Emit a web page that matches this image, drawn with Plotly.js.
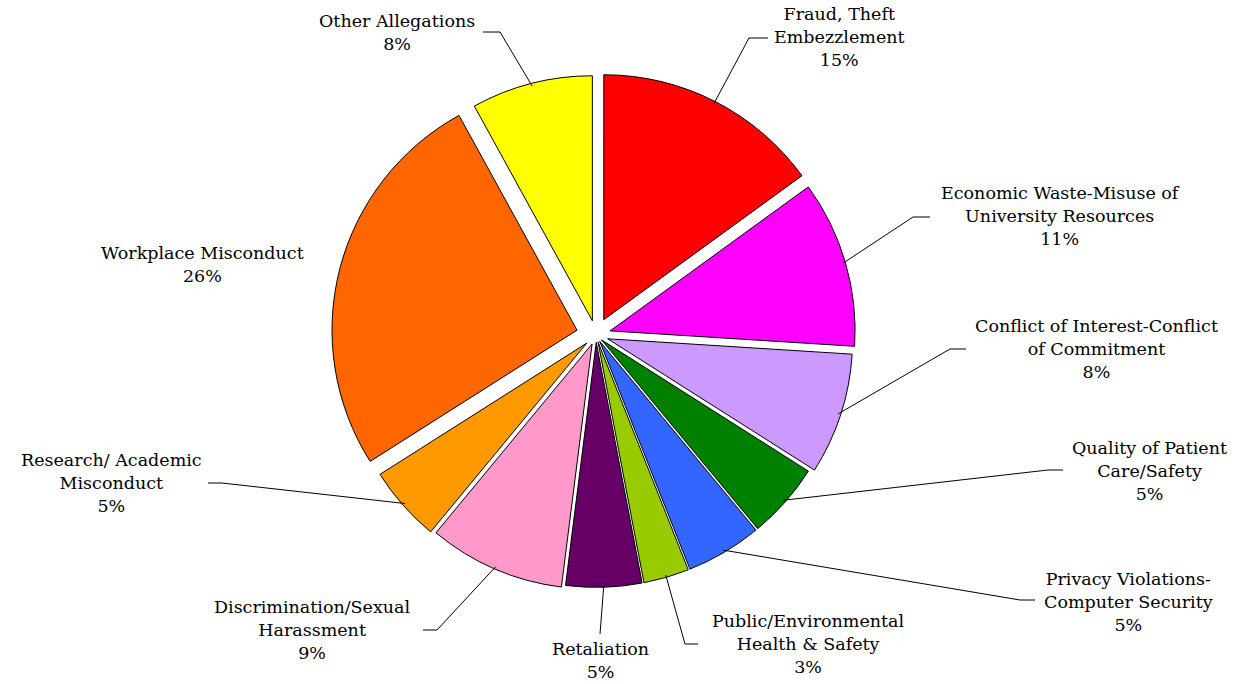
<!DOCTYPE html>
<html><head><meta charset="utf-8">
<script src="https://cdn.plot.ly/plotly-3.0.1.min.js"></script>
<style>html,body{margin:0;padding:0;background:#fff}#chart{width:1243px;height:684px}</style>
</head><body><div id="chart"></div>
<script>
// ---- data ----
const categories = [
  "Fraud, Theft Embezzlement",
  "Economic Waste-Misuse of University Resources",
  "Conflict of Interest-Conflict of Commitment",
  "Quality of Patient Care/Safety",
  "Privacy Violations-Computer Security",
  "Public/Environmental Health & Safety",
  "Retaliation",
  "Discrimination/Sexual Harassment",
  "Research/ Academic Misconduct",
  "Workplace Misconduct",
  "Other Allegations"
];
const labelLines = [
  ["Fraud, Theft", "Embezzlement"],
  ["Economic Waste-Misuse of", "University Resources"],
  ["Conflict of Interest-Conflict", "of Commitment"],
  ["Quality of Patient", "Care/Safety"],
  ["Privacy Violations-", "Computer Security"],
  ["Public/Environmental", "Health & Safety"],
  ["Retaliation"],
  ["Discrimination/Sexual", "Harassment"],
  ["Research/ Academic", "Misconduct"],
  ["Workplace Misconduct"],
  ["Other Allegations"]
];
const percents = [15, 11, 8, 5, 5, 3, 5, 9, 5, 26, 8];
const colors = ["#FF0000", "#FF00FF", "#CC99FF", "#008000", "#3366FF", "#99CC00",
                "#660066", "#FF99CC", "#FF9900", "#FF6600", "#FFFF00"];

// ---- layout (pixel positions of the label boxes and leader-line elbows) ----
const pulls = [0.07, 0.06, 0.05, 0.03, 0.03, 0.03, 0.03, 0.04, 0.05, 0.08, 0.06];
const labelPos = [[839, 37], [1060, 216], [1096, 349], [1149, 471], [1128, 602],
                  [808, 644], [600, 660], [312, 630], [111, 483], [202, 264], [397, 32]];
const lineStart = [[768, 38], [930, 217], [966, 349], [1063, 470], [1035, 600],
                   [698, 644], [600, 634], [423, 630], [208, 483], null, [483, 32]];
const lineElbow = [[749, 38], [913, 217], [950, 349], [1048, 470], [1020, 600],
                   [685, 644], [600, 634], [437, 630], [222, 483], null, [500, 32]];

const W = 1243, H = 684, cx = 596, cy = 335, r = 245;
const maxPull = Math.max.apply(null, pulls);
const box = 2 * r * (1 + maxPull);
const px = x => x / W, py = y => 1 - y / H;

const total = percents.reduce((a, b) => a + b, 0);
const shapes = [], annotations = [];
let cum = 0;
percents.forEach((v, i) => {
  const mid = (cum + v / 2) / total;
  cum += v;
  const th = 2 * Math.PI * mid;
  const rr = r * (0.99 + pulls[i]);
  const ex = cx + rr * Math.sin(th), ey = cy - rr * Math.cos(th);
  annotations.push({
    x: px(labelPos[i][0]), y: py(labelPos[i][1]), xref: 'paper', yref: 'paper',
    xanchor: 'center', yanchor: 'middle', align: 'center', showarrow: false,
    text: labelLines[i].join('<br>') + '<br>' + v + '%',
    font: {family: 'DejaVu Serif, serif', size: 17.5, color: '#000'}
  });
  if (lineStart[i]) {
    const s = lineStart[i], e = lineElbow[i];
    shapes.push({
      type: 'path', xref: 'paper', yref: 'paper',
      path: `M ${px(s[0])} ${py(s[1])} L ${px(e[0])} ${py(e[1])} L ${px(ex)} ${py(ey)}`,
      line: {color: '#000', width: 1}
    });
  }
});

const trace = {
  type: 'pie',
  labels: categories,
  values: percents,
  sort: false,
  direction: 'clockwise',
  rotation: 0,
  pull: pulls,
  textinfo: 'none',
  hoverinfo: 'label+percent',
  marker: {colors: colors, line: {color: '#000', width: 1}},
  domain: {x: [px(cx - box / 2), px(cx + box / 2)], y: [py(cy + box / 2), py(cy - box / 2)]},
  showlegend: false
};

Plotly.newPlot('chart', [trace], {
  width: W, height: H,
  margin: {l: 0, r: 0, t: 0, b: 0},
  paper_bgcolor: '#fff',
  showlegend: false,
  shapes: shapes,
  annotations: annotations
}, {displayModeBar: false, staticPlot: true});
</script></body></html>
